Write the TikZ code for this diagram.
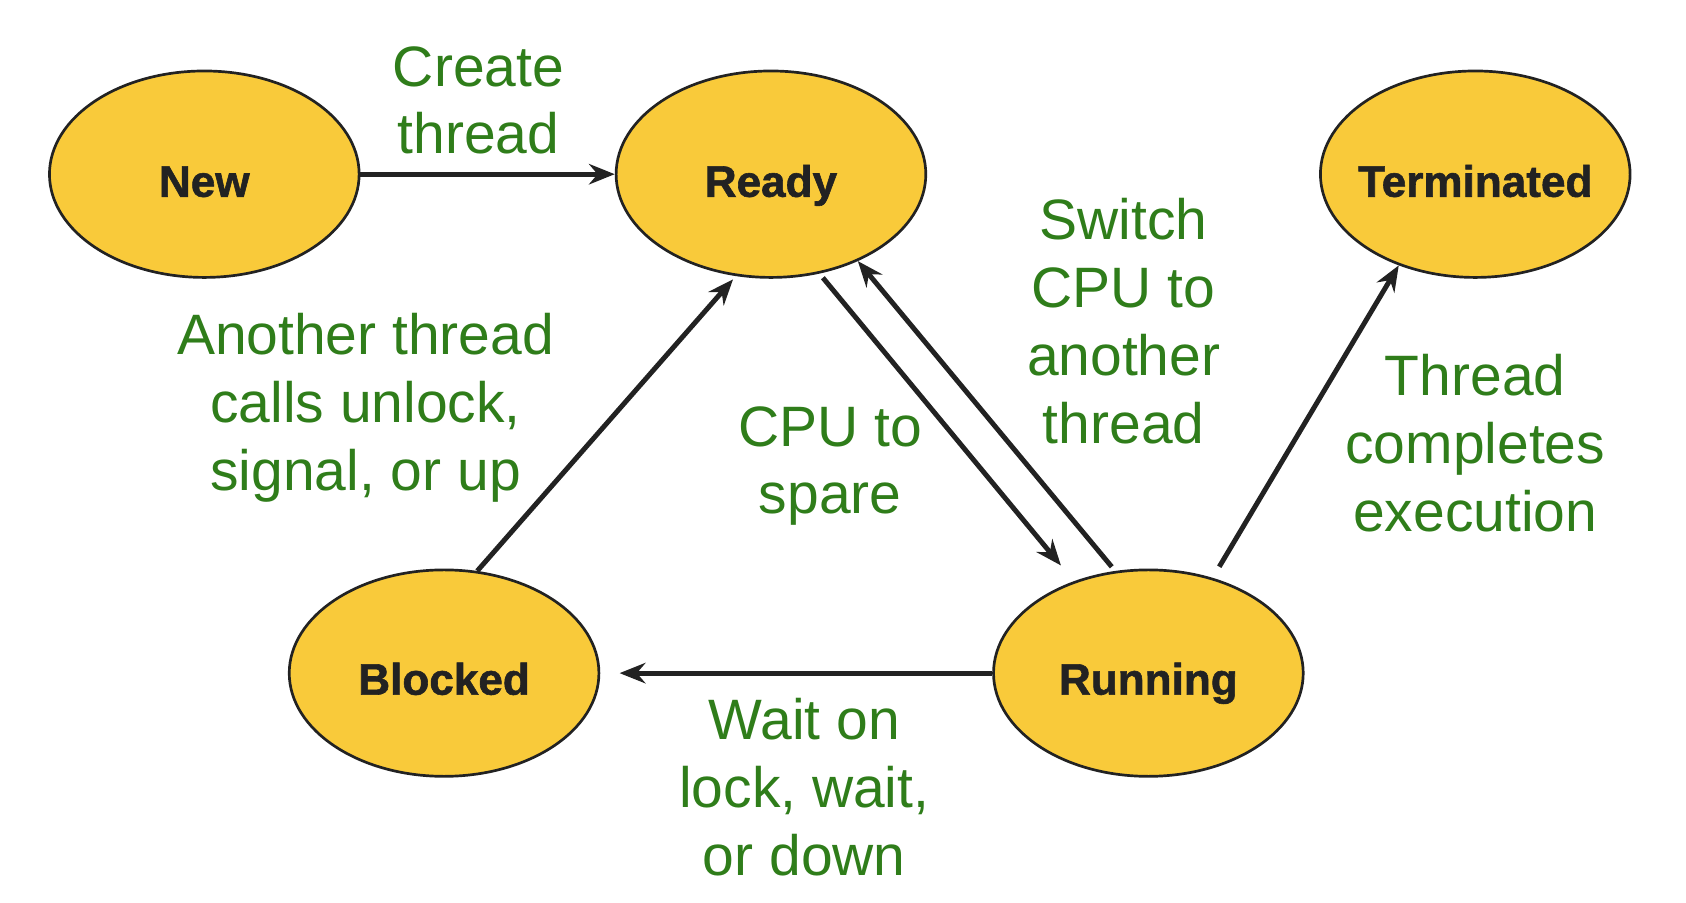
\documentclass[tikz,border=0pt]{standalone}
\usepackage{fontspec}
\setmainfont{Liberation Sans}
\newfontfamily\heavyfont[FakeBold=1.3]{Liberation Sans Bold}
\usetikzlibrary{shapes.geometric,arrows.meta,calc}
\definecolor{stateyellow}{RGB}{249,202,58}
\definecolor{labelgreen}{RGB}{47,125,26}
\definecolor{darkline}{RGB}{34,34,34}
\begin{document}
\begin{tikzpicture}[x=1pt,y=-1pt,
  state/.style={ellipse,draw=darkline,line width=2.5pt,fill=stateyellow,minimum width=288pt,minimum height=192pt,inner sep=0pt},
  statetext/.style={anchor=base,inner sep=0pt,text=darkline,font=\fontsize{41}{48}\heavyfont},
  edgetext/.style={anchor=base,inner sep=0pt,text=labelgreen,font=\fontsize{53}{63}\selectfont},
  conn/.style={draw=darkline,line width=4.6pt,-{Stealth[length=24pt,width=19pt,inset=8pt]}}]
\useasboundingbox (0,0) rectangle (1568,839);
% states
\node[state] (new) at (190,162) {};
\node[state] (ready) at (717,162) {};
\node[state] (term) at (1372,162) {};
\node[state] (blocked) at (413,626) {};
\node[state] (running) at (1068,626) {};
\node[statetext] (tnew) at ($(new.center)+(0,21)$) {New};
\node[statetext] (tready) at ($(ready.center)+(0,21)$) {Ready};
\node[statetext] (tterm) at ($(term.center)+(0,21)$) {Terminated};
\node[statetext] (tblocked) at ($(blocked.center)+(0,20)$) {Blocked};
\node[statetext] (trunning) at ($(running.center)+(0,20)$) {Running};
% transitions
\draw[conn] (new.east) -- (ready.west);
\draw[conn,shorten >=4pt] (blocked.72) -- (ready.251);
\draw[conn,shorten <=5pt,shorten >=19pt] (ready.296.6) -- (running.129);
\draw[conn,shorten <=5pt] (running.108.4) -- (ready.315.7);
\draw[conn,shorten <=12pt] (running.56.4) -- (term.230.4);
\draw[conn,shorten >=18pt] (running.west) -- (blocked.east);
% labels
\node[edgetext] (lcreate) at (445,80) {\begin{tabular}[t]{@{}c@{}}Create\\thread\end{tabular}};
\node[edgetext] (lanother) at (340,330) {\begin{tabular}[t]{@{}c@{}}Another thread\\calls unlock,\\signal, or up\end{tabular}};
\node[edgetext] (lspare) at (772,415) {\begin{tabular}[t]{@{}c@{}}CPU to\\spare\end{tabular}};
\node[edgetext] (lswitch) at (1045,223) {\begin{tabular}[t]{@{}c@{}}Switch\\CPU to\\another\\thread\end{tabular}};
\node[edgetext] (lcomplete) at (1372,368) {\begin{tabular}[t]{@{}c@{}}Thread\\completes\\execution\end{tabular}};
\node[edgetext] (lwait) at (748,688) {\begin{tabular}[t]{@{}c@{}}Wait on\\lock, wait,\\or down\end{tabular}};
\end{tikzpicture}
\end{document}
